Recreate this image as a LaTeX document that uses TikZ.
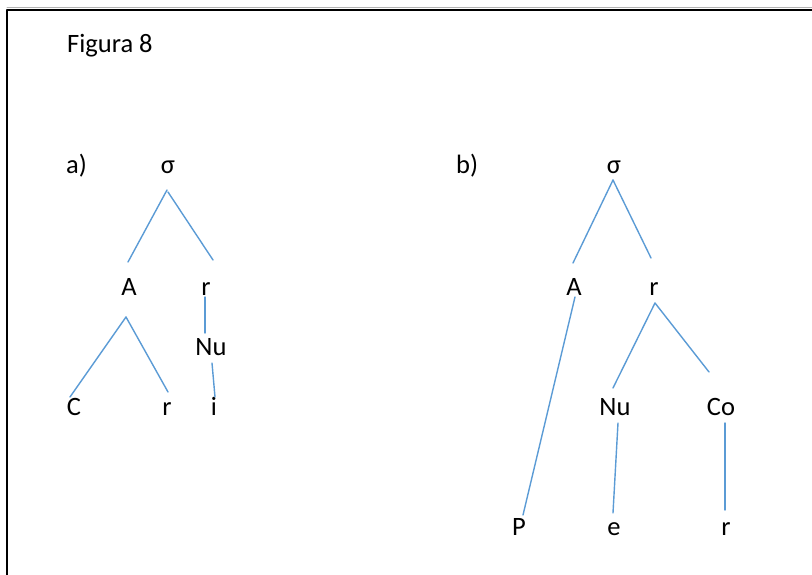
\documentclass[tikz,border=0pt]{standalone}
\usepackage{fontspec}
\setmainfont{Carlito}
\definecolor{branchblue}{HTML}{5B9BD5}

\begin{document}
\begin{tikzpicture}[x=1pt,y=-1pt,line cap=round,line join=round,
  lbl/.style={anchor=base,inner sep=0pt,font=\fontsize{26.5}{30}\selectfont},
  branch/.style={draw=branchblue,line width=1.4pt}]
  \useasboundingbox (0,0) rectangle (812,575);
  \draw[line width=0.8pt,gray!60] (7,7.6) -- (812,7.6);
  \draw[line width=2pt] (7,575) -- (7,9.6) -- (812,9.6);
  \node[lbl,anchor=base west] (fig) at (67,53) {Figura 8};
  % a)
  \node[lbl,anchor=base west] (la) at (66,174) {a)};
  \node[lbl] (sa) at (168,174) {σ};
  \node[lbl] (Aa) at (129,295) {A};
  \node[lbl] (ra) at (206,295) {r};
  \node[lbl] (Nua) at (211,355) {Nu};
  \node[lbl] (Ca) at (74,415) {C};
  \node[lbl] (rra) at (167,415) {r};
  \node[lbl] (ia) at (214,415) {i};
  \draw[branch] ([shift={(-1,16)}]sa.base) -- ([shift={(-1,-33)}]Aa.base);
  \draw[branch] ([shift={(0,18)}]sa.base) -- ([shift={(7,-35)}]ra.base);
  \draw[branch] ([shift={(-3,22)}]Aa.base) -- ([shift={(-4,-18)}]Ca.base);
  \draw[branch] ([shift={(-3,22)}]Aa.base) -- ([shift={(1,-23)}]rra.base);
  \draw[branch] ([shift={(-1,2)}]ra.base) -- ([shift={(-6,-22)}]Nua.base);
  \draw[branch] ([shift={(1,8)}]Nua.base) -- ([shift={(1,-18)}]ia.base);
  % b)
  \node[lbl,anchor=base west] (lb) at (456,174) {b)};
  \node[lbl] (sb) at (614,174) {σ};
  \node[lbl] (Ab) at (574,295) {A};
  \node[lbl] (rb) at (654,295) {r};
  \node[lbl] (Nub) at (615,415) {Nu};
  \node[lbl] (Cob) at (721,415) {Co};
  \node[lbl] (Pb) at (519,535) {P};
  \node[lbl] (eb) at (614,535) {e};
  \node[lbl] (rrb) at (726,535) {r};
  \draw[branch] ([shift={(-1,6)}]sb.base) -- ([shift={(-1,-32)}]Ab.base);
  \draw[branch] ([shift={(-1,6)}]sb.base) -- ([shift={(-3,-37)}]rb.base);
  \draw[branch] ([shift={(1,2)}]Ab.base) -- ([shift={(4,-20)}]Pb.base);
  \draw[branch] ([shift={(1,8)}]rb.base) -- ([shift={(-2,-27)}]Nub.base);
  \draw[branch] ([shift={(1,8)}]rb.base) -- ([shift={(-12,-43)}]Cob.base);
  \draw[branch] ([shift={(3,8)}]Nub.base) -- ([shift={(-1,-22)}]eb.base);
  \draw[branch] ([shift={(4,8)}]Cob.base) -- ([shift={(-1,-25)}]rrb.base);
\end{tikzpicture}
\end{document}
